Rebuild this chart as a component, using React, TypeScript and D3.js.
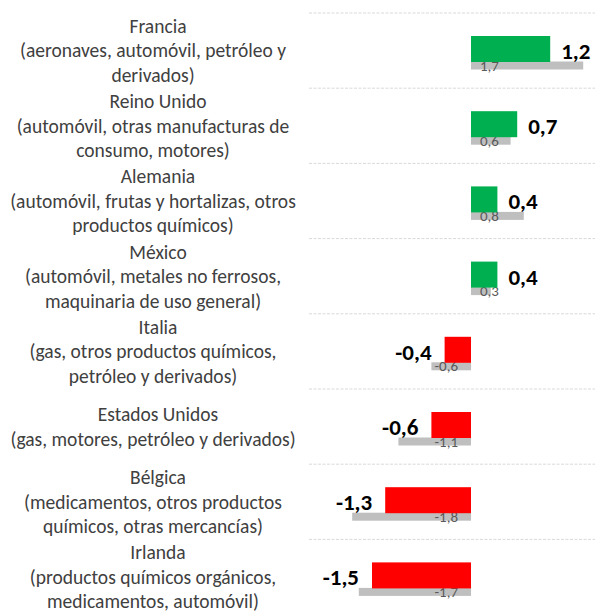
import React from "react";
import * as d3 from "d3";

const countries = ["Francia", "Reino Unido", "Alemania", "México", "Italia", "Estados Unidos", "Bélgica", "Irlanda"];
const descriptions: string[][] = [
  ["(aeronaves, automóvil, petróleo y", "derivados)"],
  ["(automóvil, otras manufacturas de", "consumo, motores)"],
  ["(automóvil, frutas y hortalizas, otros", "productos químicos)"],
  ["(automóvil, metales no ferrosos,", "maquinaria de uso general)"],
  ["(gas, otros productos químicos,", "petróleo y derivados)"],
  ["(gas, motores, petróleo y derivados)"],
  ["(medicamentos, otros productos", "químicos, otras mercancías)"],
  ["(productos químicos orgánicos,", "medicamentos, automóvil)"],
];
const currentValues = [1.2, 0.7, 0.4, 0.4, -0.4, -0.6, -1.3, -1.5];
const previousValues = [1.7, 0.6, 0.8, 0.3, -0.6, -1.1, -1.8, -1.7];

const W = 595;
const H = 614;
const FONT = "Calibri, Carlito, Lato, sans-serif";
const fmt = (v: number) => d3.format(".1f")(v).replace(".", ",").replace("−", "-");

export default function App() {
  const x = d3.scaleLinear().domain([-2.5, 1.9]).range([306, 596.4]);
  const y = d3.scaleBand<string>().domain(countries).range([13, 13 + 8 * 75.2]).paddingInner(0);
  const x0 = x(0);
  const bw = y.bandwidth();
  const lineH = 24.5;

  return (
    <svg width={W} height={H} style={{ position: "absolute", left: 0, top: 0, background: "#fff" }} fontFamily={FONT}>
      {countries.map((c, i) => {
        const top = y(c)!;
        const lines = [c, ...descriptions[i]];
        const cy = top + bw / 2;
        const firstY = cy - ((lines.length - 1) * lineH) / 2;
        const v = currentValues[i];
        const p = previousValues[i];
        const pos = v >= 0;
        return (
          <g key={c}>
            <line x1={309} x2={W} y1={top} y2={top} stroke="#D9D9D9" strokeWidth={1} strokeDasharray="3,1.5" />
            {lines.map((t, j) => (
              <text
                key={j}
                x={j === 0 ? 158 : 153}
                y={firstY + j * lineH}
                dy="0.35em"
                textAnchor="middle"
                fontSize={19.5}
                fill="#404040"
              >
                {t}
              </text>
            ))}
            <rect
              x={Math.min(x0, x(p))}
              width={Math.abs(x(p) - x0)}
              y={top + 48.5}
              height={8}
              fill="#BFBFBF"
            />
            <text
              x={p >= 0 ? x0 + 9 : x0 - 13}
              y={top + 57.5}
              textAnchor={p >= 0 ? "start" : "end"}
              fontSize={15}
              fill="#595959"
            >
              {fmt(p)}
            </text>
            <rect
              x={Math.min(x0, x(v))}
              width={Math.abs(x(v) - x0)}
              y={top + 23}
              height={26}
              fill={pos ? "#00B050" : "#FF0000"}
            />
            <text
              x={pos ? x(v) + 11 : x(v) - 13}
              y={top + 46}
              textAnchor={pos ? "start" : "end"}
              fontSize={23}
              fontWeight="bold"
              fill="#000"
            >
              {fmt(v)}
            </text>
          </g>
        );
      })}
    </svg>
  );
}
